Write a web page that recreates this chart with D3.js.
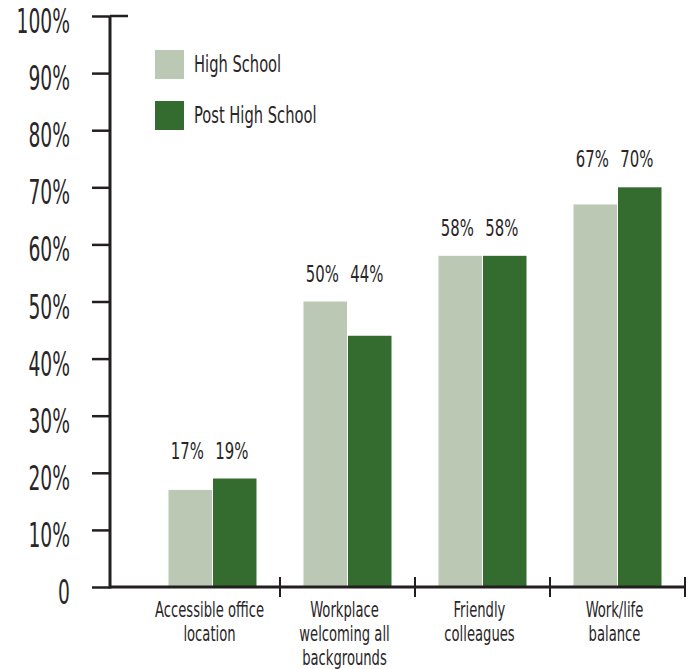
<!DOCTYPE html>
<html>
<head>
<meta charset="utf-8">
<script src="https://cdn.jsdelivr.net/npm/d3@7"></script>
<style>
  html, body { margin: 0; padding: 0; background: #fff; }
  svg { display: block; }
  text { font-family: "DejaVu Sans Condensed", "DejaVu Sans", sans-serif; fill: #2a2627; }
</style>
</head>
<body>
<div id="chart"></div>
<script>
// Reasons for choosing a workplace, by education level
const categories = [
  ["Accessible office", "location"],
  ["Workplace", "welcoming all", "backgrounds"],
  ["Friendly", "colleagues"],
  ["Work/life", "balance"]
];
const seriesNames = ["High School", "Post High School"];
const highSchool = [17, 50, 58, 67];
const postHighSchool = [19, 44, 58, 70];
const yTicks = [0, 10, 20, 30, 40, 50, 60, 70, 80, 90, 100];

const W = 691, H = 669;
const colors = { "High School": "#bbc8b3", "Post High School": "#346b2f" };
const ink = "#231f20";

const svg = d3.select("#chart").append("svg")
  .attr("width", W).attr("height", H);

const axisX0 = 110, axisX1 = 685;
const y = d3.scaleLinear().domain([0, 100]).range([587, 16]);

const keys = categories.map(c => c.join(" "));
const x = d3.scaleBand().domain(keys).range([145, 685]).padding(0);
const groupW = 88;
const xs = d3.scaleBand().domain(seriesNames)
  .range([0, groupW]).paddingInner(1 / 44).paddingOuter(0);
const groupOffset = (x.bandwidth() - groupW) / 2;

const rows = keys.map((k, i) => ({
  key: k,
  lines: categories[i],
  values: [
    { name: "High School", v: highSchool[i] },
    { name: "Post High School", v: postHighSchool[i] }
  ]
}));

// Bars
const groups = svg.append("g").selectAll("g").data(rows).join("g")
  .attr("transform", d => `translate(${x(d.key) + groupOffset},0)`);

groups.selectAll("rect").data(d => d.values).join("rect")
  .attr("x", d => xs(d.name))
  .attr("width", xs.bandwidth())
  .attr("y", d => y(d.v))
  .attr("height", d => y(0) - y(d.v))
  .attr("fill", d => colors[d.name]);

// Value labels, one line above the taller bar of each pair
groups.each(function(d) {
  const top = y(d3.max(d.values, v => v.v)) - 20;
  d3.select(this).selectAll("text.val").data(d.values).join("text")
    .attr("class", "val")
    .attr("transform", v => `translate(${xs(v.name) + xs.bandwidth() / 2 - 3},${top}) scale(0.72,1)`)
    .attr("text-anchor", "middle")
    .style("font-size", "23px")
    .text(v => v.v + "%");
});

// Y axis
const yAxis = d3.axisLeft(y).tickValues(yTicks).tickSize(18).tickPadding(22)
  .tickFormat(d => d === 0 ? "0" : d + "%");
const yg = svg.append("g").attr("transform", `translate(${axisX0},0)`).call(yAxis);
yg.select(".domain").remove();
yg.selectAll(".tick line").attr("stroke", ink).attr("stroke-width", 2.5);
yg.selectAll(".tick text")
  .attr("x", -40 / 0.63)
  .attr("dy", "0.5em")
  .attr("transform", "scale(0.63,1)")
  .style("font-size", "33px")
  .attr("fill", "#2a2627");
yg.append("line")
  .attr("x1", 0).attr("x2", 0)
  .attr("y1", y(100)).attr("y2", y(0) + 1.5)
  .attr("stroke", ink).attr("stroke-width", 3);
yg.append("line")
  .attr("x1", 0).attr("x2", 18)
  .attr("y1", y(100)).attr("y2", y(100))
  .attr("stroke", ink).attr("stroke-width", 2.5);

// X axis baseline with ticks between categories
const xg = svg.append("g");
xg.append("line")
  .attr("x1", axisX0).attr("x2", axisX1)
  .attr("y1", y(0)).attr("y2", y(0))
  .attr("stroke", ink).attr("stroke-width", 3);
xg.selectAll("line.sep").data(keys).join("line")
  .attr("class", "sep")
  .attr("x1", d => x(d) + x.bandwidth()).attr("x2", d => x(d) + x.bandwidth())
  .attr("y1", y(0) - 10).attr("y2", y(0) + 10)
  .attr("stroke", ink).attr("stroke-width", 2);

// Category labels
xg.selectAll("text.cat").data(rows).join("text")
  .attr("class", "cat")
  .attr("transform", d => `translate(${x(d.key) + x.bandwidth() / 2 - 3},617) scale(0.68,1)`)
  .attr("text-anchor", "middle")
  .style("font-size", "21.5px")
  .selectAll("tspan").data(d => d.lines).join("tspan")
  .attr("x", 0)
  .attr("dy", (l, i) => i === 0 ? 0 : 24)
  .text(l => l);

// Legend
const legend = svg.append("g").selectAll("g").data(seriesNames).join("g")
  .attr("transform", (d, i) => `translate(155,${50 + i * 51})`);
legend.append("rect")
  .attr("width", 29).attr("height", 29)
  .attr("fill", d => colors[d]);
legend.append("text")
  .attr("transform", "translate(39,22) scale(0.71,1)")
  .style("font-size", "23px")
  .text(d => d);
</script>
</body>
</html>
